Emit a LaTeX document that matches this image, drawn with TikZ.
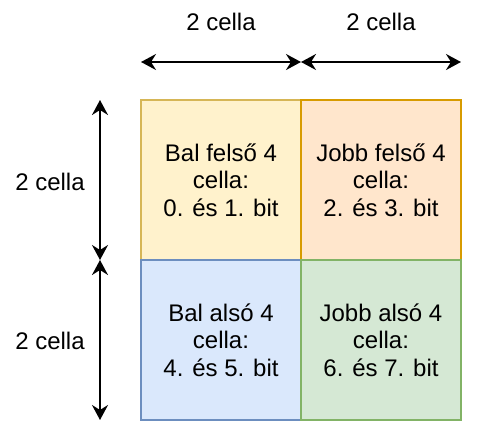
\documentclass[tikz,border=0pt]{standalone}
\usepackage{fontspec}
\setmainfont{Liberation Sans}
\usepackage{tikz}
\usetikzlibrary{positioning, arrows.meta, calc}

\definecolor{yellowfill}{HTML}{FFF2CC}
\definecolor{yellowline}{HTML}{D6B656}
\definecolor{orangefill}{HTML}{FFE6CC}
\definecolor{orangeline}{HTML}{D79B00}
\definecolor{bluefill}{HTML}{DAE8FC}
\definecolor{blueline}{HTML}{6C8EBF}
\definecolor{greenfill}{HTML}{D5E8D4}
\definecolor{greenline}{HTML}{82B366}

\tikzset{
    cellbox/.style={minimum width=160pt, minimum height=160pt, line width=1.5pt,
        align=center, inner sep=0pt, outer sep=0pt,
        font=\fontsize{24}{27.5}\selectfont},
    sizelabel/.style={font=\fontsize{24}{27.5}\selectfont, inner sep=0pt},
    sizearrow/.style={{Stealth[length=15pt,width=16pt,inset=5pt]}-{Stealth[length=15pt,width=16pt,inset=5pt]},
        line width=2pt}
}

\begin{document}
\begin{tikzpicture}[x=1pt, y=-1pt]
    \useasboundingbox (0,0) rectangle (480,440);

    % the four quarters
    \node[cellbox, fill=yellowfill, draw=yellowline] (topleft) at (221,180)
        {Bal felső 4\\cella:\\0. és 1. bit};
    \node[cellbox, fill=orangefill, draw=orangeline, right=0pt of topleft] (topright)
        {Jobb felső 4\\cella:\\2. és 3. bit};
    \node[cellbox, fill=bluefill, draw=blueline, below=0pt of topleft] (bottomleft)
        {Bal alsó 4\\cella:\\4. és 5. bit};
    \node[cellbox, fill=greenfill, draw=greenline, right=0pt of bottomleft] (bottomright)
        {Jobb alsó 4\\cella:\\6. és 7. bit};

    % arrow ends
    \coordinate (h1) at (141,62);
    \coordinate (h2) at (301,62);
    \coordinate (h3) at (461,62);
    \coordinate (v1) at (100,100);
    \coordinate (v2) at (100,260);
    \coordinate (v3) at (100,420);

    % size arrows
    \foreach \a/\b in {h1/h2, h2/h3, v1/v2, v2/v3}
    {
        \draw[sizearrow] (\a) -- (\b);
    }

    % size labels
    \foreach \name/\x/\y in {widthleft/221/22, widthright/381/22,
                             heighttop/50/182, heightbottom/50/341}
    {
        \node[sizelabel] (\name) at (\x,\y) {2 cella};
    }
\end{tikzpicture}
\end{document}
